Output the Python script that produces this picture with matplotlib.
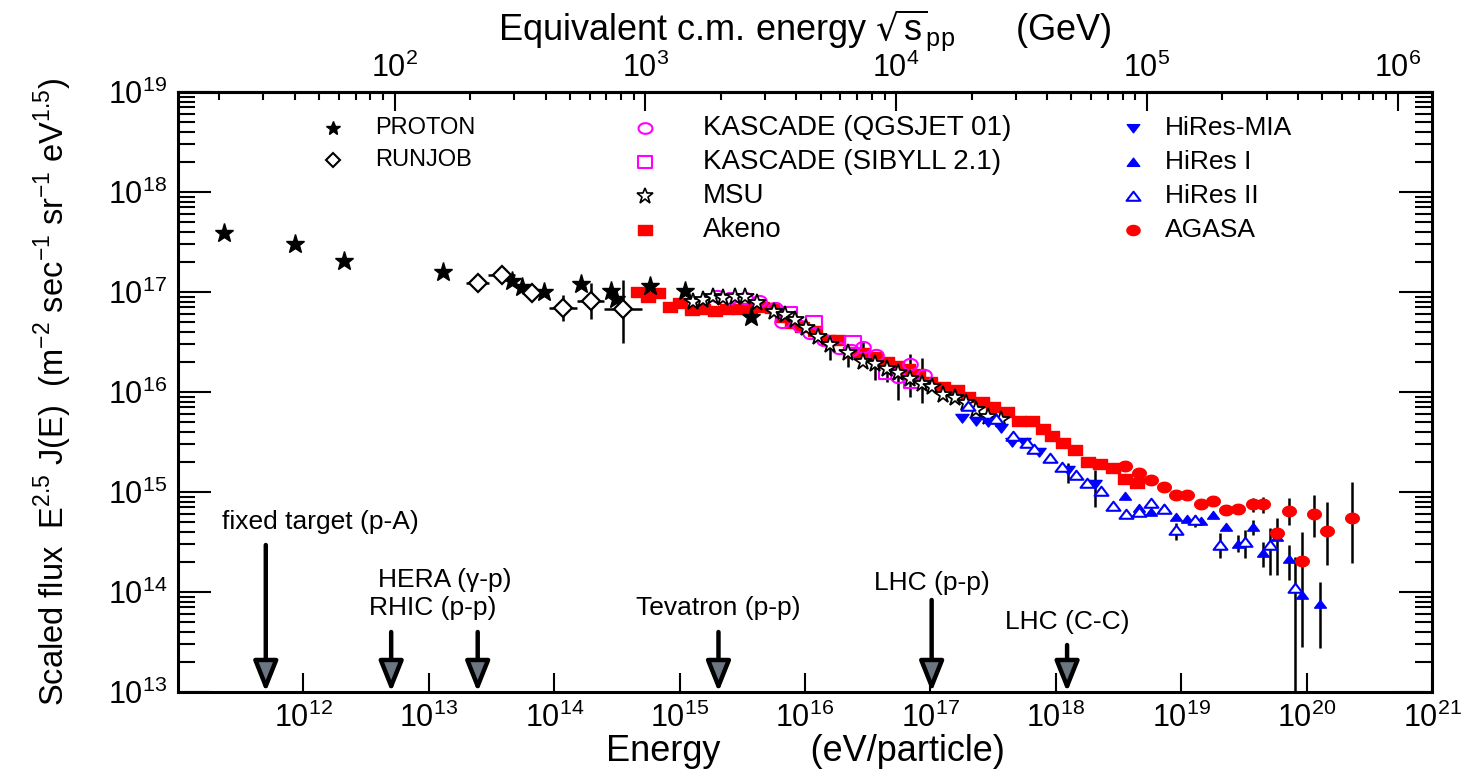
import numpy as np
import matplotlib.pyplot as plt
from matplotlib.path import Path
from matplotlib.markers import MarkerStyle

plt.rcParams['font.family'] = ['Liberation Sans', 'DejaVu Sans']

# log10(E / eV) and log10(E^2.5 J(E)) for each data set
proton_logE = [11.37, 11.93, 12.32, 13.11, 13.66, 13.74, 13.92, 14.21, 14.45, 14.49, 14.76, 15.04, 15.57]
proton_logF = [17.59, 17.48, 17.31, 17.20, 17.11, 17.05, 17.00, 17.08, 17.01, 16.93, 17.06, 17.01, 16.75]

runjob_logE = [13.39, 13.58, 13.82, 14.07, 14.29, 14.55]
runjob_logF = [17.09, 17.17, 16.99, 16.84, 16.91, 16.83]
runjob_dE = [0.09, 0.11, 0.08, 0.11, 0.11, 0.15]
runjob_up = [0.0, 0.0, 0.06, 0.13, 0.18, 0.29]
runjob_dn = [0.0, 0.0, 0.06, 0.13, 0.18, 0.34]

kascade_q_logE = [15.30, 15.40, 15.52, 15.63, 15.76, 15.82, 15.96, 16.04, 16.15, 16.27, 16.37, 16.46, 16.57, 16.74, 16.84, 16.95]
kascade_q_logF = [16.96, 16.94, 16.94, 16.91, 16.84, 16.70, 16.66, 16.59, 16.52, 16.44, 16.42, 16.45, 16.37, 16.15, 16.28, 16.17]

kascade_s_logE = [15.87, 16.07, 16.38, 16.65, 16.85]
kascade_s_logF = [16.79, 16.70, 16.50, 16.19, 16.10]

msu_logE = [15.11, 15.19, 15.27, 15.35, 15.44, 15.52, 15.62, 15.75, 15.84, 15.92, 16.01, 16.10, 16.20,
            16.34, 16.46, 16.56, 16.65, 16.74, 16.84, 16.93, 17.01, 17.10, 17.20, 17.28, 17.36, 17.46, 17.56]
msu_logF = [16.90, 16.92, 16.95, 16.94, 16.95, 16.95, 16.89, 16.80, 16.77, 16.72, 16.64, 16.55, 16.47,
            16.39, 16.30, 16.28, 16.23, 16.19, 16.13, 16.08, 16.05, 15.97, 15.94, 15.89, 15.82, 15.75, 15.72]
msu_up = [0, 0, 0, 0, 0, 0, 0, 0, 0, 0, 0, 0, 0.0,
          0.03, 0.20, 0.07, 0.12, 0.11, 0.25, 0.26, 0, 0, 0, 0, 0, 0, 0]
msu_dn = [0, 0, 0, 0, 0, 0, 0, 0, 0, 0, 0, 0, 0.15,
          0.14, 0.0, 0.16, 0.13, 0.27, 0.18, 0.19, 0, 0, 0, 0, 0, 0, 0]

akeno_logE = [14.67, 14.75, 14.83, 14.92, 15.00, 15.10, 15.19, 15.28, 15.38, 15.47, 15.56, 15.66, 15.74,
              15.82, 15.90, 15.98, 16.08, 16.18, 16.26, 16.36, 16.46, 16.56, 16.65, 16.73, 16.82, 16.90,
              17.00, 17.10, 17.21, 17.30, 17.41, 17.50, 17.61, 17.71, 17.81, 17.90, 17.97, 18.06, 18.15,
              18.26, 18.35, 18.46, 18.55, 18.65]
akeno_logF = [17.00, 16.95, 16.99, 16.85, 16.89, 16.82, 16.83, 16.81, 16.83, 16.83, 16.84, 16.85, 16.84,
              16.75, 16.69, 16.65, 16.61, 16.52, 16.52, 16.40, 16.39, 16.35, 16.30, 16.26, 16.23, 16.18,
              16.10, 16.05, 16.02, 15.95, 15.90, 15.85, 15.80, 15.71, 15.71, 15.63, 15.56, 15.49, 15.42,
              15.30, 15.28, 15.24, 15.13, 15.09]

mia_logE = [17.25, 17.36, 17.46, 17.56, 17.65, 17.75, 17.87, 18.10, 18.31]
mia_logF = [15.74, 15.71, 15.70, 15.64, 15.50, 15.50, 15.40, 15.22, 15.08]
mia_up = [0, 0, 0, 0, 0, 0, 0, 0.07, 0.14]
mia_dn = [0, 0, 0, 0, 0, 0, 0, 0.13, 0.23]

hires1_logE = [18.55, 18.66, 18.76, 18.86, 18.96, 19.05, 19.16, 19.25, 19.36, 19.45, 19.57, 19.65, 19.76, 19.86, 19.96, 20.11]
hires1_logF = [14.96, 14.84, 14.80, 14.84, 14.75, 14.73, 14.71, 14.77, 14.65, 14.48, 14.65, 14.39, 14.55, 14.33, 13.97, 13.88]
hires1_up = [0, 0, 0, 0, 0, 0, 0, 0, 0, 0.09, 0.07, 0.11, 0.19, 0.14, 0, 0.22]
hires1_dn = [0, 0, 0, 0, 0, 0, 0, 0, 0, 0.08, 0.08, 0.14, 0.38, 0.21, 0, 0.44]

hires2_logE = [17.30, 17.52, 17.66, 17.77, 17.83, 17.95, 18.05, 18.16, 18.25, 18.36, 18.46, 18.56, 18.66,
               18.76, 18.86, 18.96, 19.11, 19.31, 19.51, 19.71, 19.91]
hires2_logF = [15.86, 15.73, 15.56, 15.49, 15.43, 15.34, 15.25, 15.17, 15.09, 15.01, 14.86, 14.78, 14.80,
               14.89, 14.83, 14.62, 14.72, 14.47, 14.50, 14.47, 14.04]
hires2_up = [0, 0, 0, 0, 0, 0, 0, 0, 0, 0, 0, 0, 0, 0, 0, 0.07, 0.05, 0.12, 0.12, 0.17, 0.31]
hires2_dn = [0, 0, 0, 0, 0, 0, 0, 0, 0, 0, 0, 0, 0, 0, 0, 0.10, 0.07, 0.13, 0.16, 0.30, 2.00]

agasa_logE = [18.55, 18.66, 18.76, 18.86, 18.96, 19.05, 19.16, 19.25, 19.36, 19.45, 19.57, 19.65, 19.76,
              19.86, 19.96, 20.06, 20.16, 20.36]
agasa_logF = [15.26, 15.19, 15.12, 15.05, 14.97, 14.97, 14.88, 14.91, 14.82, 14.83, 14.88, 14.88, 14.59,
              14.81, 14.31, 14.78, 14.61, 14.74]
agasa_up = [0, 0, 0, 0, 0, 0, 0, 0, 0, 0, 0.06, 0.07, 0, 0.13, 0.29, 0.19, 0.29, 0.36]
agasa_dn = [0, 0, 0, 0, 0, 0, 0, 0, 0, 0, 0.08, 0.09, 0, 0.14, 0.86, 0.23, 0.34, 0.45]

# accelerator reach (energy of a fixed-target proton) and arrow tops
acc_names = ['fixed target (p-A)', 'HERA (γ-p)', 'RHIC (p-p)', 'Tevatron (p-p)', 'LHC (p-p)', 'LHC (C-C)']
acc_logE = [11.70, 12.70, 13.39, 15.31, 17.01, 18.09]
acc_top = [14.47, 13.60, 13.60, 13.60, 13.92, 13.47]


def stretched(verts, sx=1.3):
    v = np.array(verts, float)
    v[:, 0] *= sx
    return MarkerStyle(Path(v, closed=True))


t = np.linspace(0, 2 * np.pi, 41)
ellipse = stretched(np.c_[np.cos(t), np.sin(t)])
rect = stretched([(-1, -1), (1, -1), (1, 1), (-1, 1), (-1, -1)])
tri_up = stretched([(-1, -0.8), (1, -0.8), (0, 0.9), (-1, -0.8)])
tri_dn = stretched([(-1, 0.8), (1, 0.8), (0, -0.9), (-1, 0.8)])


def pw(a):
    return 10.0 ** np.asarray(a, float)


def err(logF, up, dn):
    F = pw(logF)
    return [F - F * 10.0 ** (-np.asarray(dn)), F * 10.0 ** np.asarray(up) - F]


fig = plt.figure(figsize=(14.68, 7.73), dpi=100)
ax = fig.add_axes([178 / 1468, 81 / 773, 1254 / 1468, 600 / 773])
ax.set_xscale('log')
ax.set_yscale('log')
ax.set_xlim(1e11, 1e21)
ax.set_ylim(1e13, 1e19)

eb = dict(fmt='none', ecolor='black', elinewidth=1.8, capsize=0, zorder=2)

# error bars first, markers on top
E = pw(runjob_logE)
ax.errorbar(E, pw(runjob_logF), yerr=err(runjob_logF, runjob_up, runjob_dn),
            xerr=[E - E * 10.0 ** -np.array(runjob_dE), E * 10.0 ** np.array(runjob_dE) - E], **eb)
ax.errorbar(pw(msu_logE), pw(msu_logF), yerr=err(msu_logF, msu_up, msu_dn), **eb)
ax.errorbar(pw(mia_logE), pw(mia_logF), yerr=err(mia_logF, mia_up, mia_dn), **eb)
ax.errorbar(pw(hires1_logE), pw(hires1_logF), yerr=err(hires1_logF, hires1_up, hires1_dn), **eb)
ax.errorbar(pw(hires2_logE), pw(hires2_logF), yerr=err(hires2_logF, hires2_up, hires2_dn), **eb)
ax.errorbar(pw(agasa_logE), pw(agasa_logF), yerr=err(agasa_logF, agasa_up, agasa_dn), **eb)

ax.plot(pw(proton_logE), pw(proton_logF), ls='none', marker='*', ms=14, color='black', zorder=4)
ax.plot(pw(runjob_logE), pw(runjob_logF), ls='none', marker='D', ms=9, mfc='white', mec='black', mew=1.6, zorder=4)
ax.plot(pw(akeno_logE), pw(akeno_logF), ls='none', marker=rect, ms=9.8, color='red', zorder=3)
ax.plot(pw(kascade_q_logE), pw(kascade_q_logF), ls='none', marker=ellipse, ms=10.5, mfc='none', mec='#ff00ff', mew=1.5, zorder=3)
ax.plot(pw(kascade_s_logE), pw(kascade_s_logF), ls='none', marker=rect, ms=11, mfc='none', mec='#ff00ff', mew=1.5, zorder=3)
ax.plot(pw(msu_logE), pw(msu_logF), ls='none', marker='*', ms=13, mfc='white', mec='black', mew=1.3, zorder=4)
ax.plot(pw(mia_logE), pw(mia_logF), ls='none', marker=tri_dn, ms=9.5, color='blue', zorder=4)
ax.plot(pw(hires1_logE), pw(hires1_logF), ls='none', marker=tri_up, ms=8.5, color='blue', zorder=4)
ax.plot(pw(hires2_logE), pw(hires2_logF), ls='none', marker=tri_up, ms=10, mfc='white', mec='blue', mew=1.5, zorder=4)
ax.plot(pw(agasa_logE), pw(agasa_logF), ls='none', marker=ellipse, ms=9.8, color='red', zorder=4)

# accelerator arrows
for name, lx, top in zip(acc_names, acc_logE, acc_top):
    ax.annotate('', xy=(10 ** lx, 1e13), xytext=(10 ** lx, 10 ** top),
                arrowprops=dict(arrowstyle='-|>,head_length=0.75,head_width=0.3', mutation_scale=25,
                                lw=3.2, fc='#6b7682', ec='black', shrinkA=0, shrinkB=0),
                annotation_clip=False)
lab = dict(fontsize=19, va='center')
ax.text(10 ** (acc_logE[0] - 0.35), 10 ** 14.70, acc_names[0], ha='left', **lab)
ax.text(10 ** (acc_logE[1] + 0.43), 10 ** 14.12, acc_names[1], ha='center', **lab)
ax.text(10 ** (acc_logE[2] - 0.36), 10 ** 13.84, acc_names[2], ha='center', **lab)
ax.text(10 ** acc_logE[3], 10 ** 13.84, acc_names[3], ha='center', **lab)
ax.text(10 ** acc_logE[4], 10 ** 14.09, acc_names[4], ha='center', **lab)
ax.text(10 ** acc_logE[5], 10 ** 13.70, acc_names[5], ha='center', **lab)

# legend drawn in axes fraction
def key(x, y, text, fs, dx, **mk):
    ax.plot([x], [y], ls='none', transform=ax.transAxes, clip_on=False, **mk)
    ax.text(x + dx, y, text, transform=ax.transAxes, fontsize=fs, va='center')

key(0.1236, 0.940, 'PROTON', 17, 0.0335, marker='*', ms=10, color='black')
key(0.1236, 0.887, 'RUNJOB', 17, 0.0335, marker='D', ms=7, mfc='white', mec='black', mew=1.5)
key(0.3724, 0.940, 'KASCADE (QGSJET 01)', 20, 0.0463, marker=ellipse, ms=10, mfc='none', mec='#ff00ff', mew=1.5)
key(0.3724, 0.883, 'KASCADE (SIBYLL 2.1)', 20, 0.0463, marker=rect, ms=10.5, mfc='none', mec='#ff00ff', mew=1.5)
key(0.3724, 0.827, 'MSU', 20, 0.0463, marker='*', ms=12, mfc='white', mec='black', mew=1.2)
key(0.3724, 0.770, 'Akeno', 20, 0.0463, marker=rect, ms=10, color='red')
key(0.7616, 0.940, 'HiRes-MIA', 19, 0.0255, marker=tri_dn, ms=9, color='blue')
key(0.7616, 0.883, 'HiRes I', 19, 0.0255, marker=tri_up, ms=9, color='blue')
key(0.7616, 0.827, 'HiRes II', 19, 0.0255, marker=tri_up, ms=10, mfc='white', mec='blue', mew=1.5)
key(0.7616, 0.770, 'AGASA', 19, 0.0255, marker=ellipse, ms=9.5, color='red')

# axes styling
for s in ax.spines.values():
    s.set_linewidth(2.2)
ax.set_xticks([10.0 ** k for k in range(12, 22)])
ax.tick_params(axis='x', which='major', direction='in', length=14, width=1.5, labelsize=22, pad=8, top=False)
ax.tick_params(axis='x', which='minor', direction='in', length=6.5, width=1.5, top=False)
ax.tick_params(axis='y', which='major', direction='in', length=24, width=1.5, labelsize=22, pad=8, right=True)
ax.tick_params(axis='y', which='minor', direction='in', length=12, width=1.5, right=True)
ax.set_xlabel('Energy         (eV/particle)', fontsize=26, labelpad=0)
ax.set_ylabel(r'Scaled flux  E$^{\mathdefault{2.5}}$ J(E)  (m$^{\mathdefault{-2}}$ sec$^{\mathdefault{-1}}$ '
              r'sr$^{\mathdefault{-1}}$ eV$^{\mathdefault{1.5}}$)',
              fontsize=23.5, labelpad=24)

# equivalent pp centre-of-mass energy on top: sqrt(s) = sqrt(2 m_p E)
mp = 0.938e9
top = ax.secondary_xaxis('top', functions=(lambda e: np.sqrt(2 * mp * np.clip(e, 1e-30, None)) / 1e9,
                                           lambda s: (np.asarray(s) * 1e9) ** 2 / (2 * mp)))
top.set_xticks([10.0 ** k for k in range(2, 7)])
top.spines['top'].set_linewidth(2.2)
top.tick_params(which='major', direction='in', length=14, width=1.5, labelsize=22, pad=6)
top.tick_params(which='minor', direction='in', length=6, width=1.5)
top.set_xlabel(r'Equivalent c.m. energy $\sqrt{\mathdefault{s}}_{\mathdefault{pp}}$      (GeV)', fontsize=26, labelpad=9)

fig.savefig('out.png', dpi=100)
